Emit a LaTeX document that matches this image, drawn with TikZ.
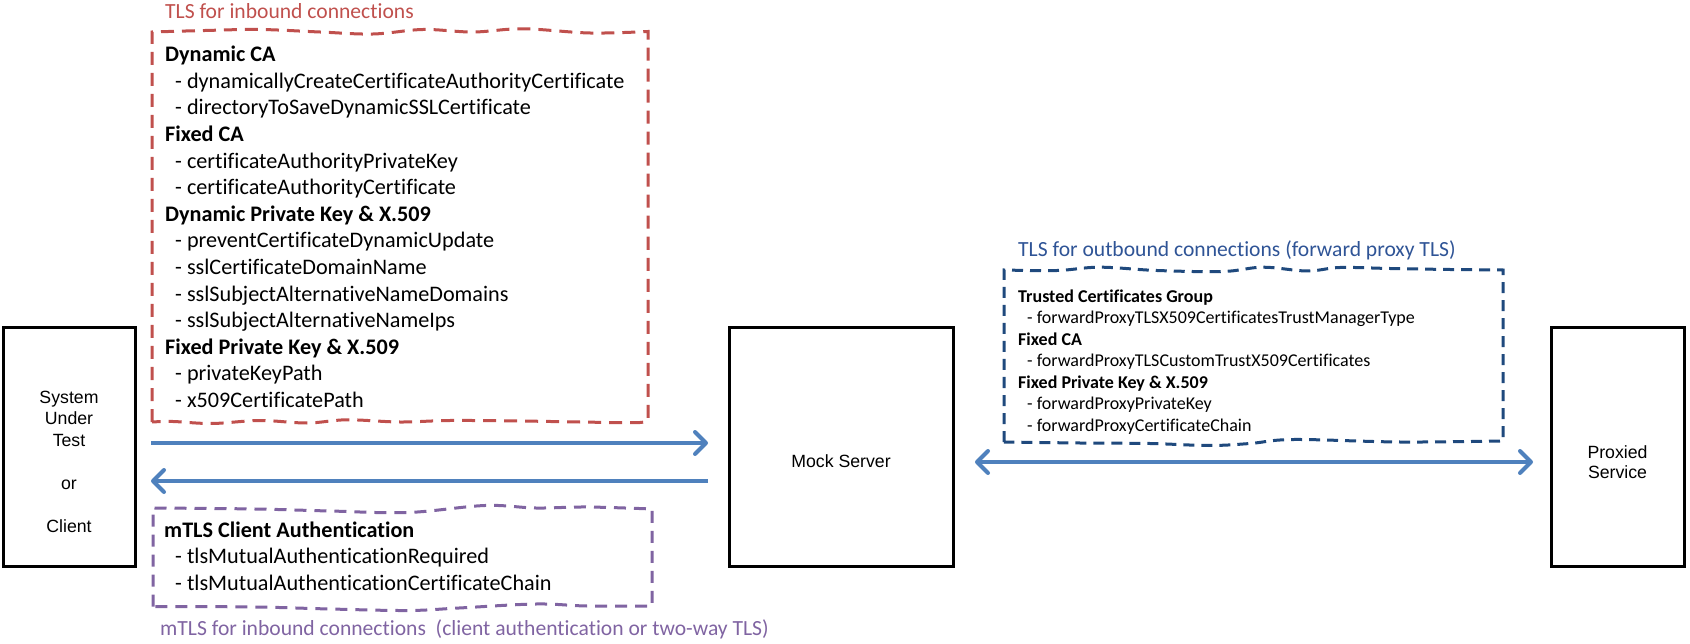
\documentclass[tikz,border=0pt]{standalone}
\usepackage{fontspec}
\setmainfont{Carlito}[Ligatures={NoCommon}]
\newfontfamily\arialfont{Liberation Sans}
\usetikzlibrary{arrows.meta,calc}
\definecolor{tlsred}{HTML}{C0504D}
\definecolor{tlsblue}{HTML}{1F497D}
\definecolor{tlsbluetitle}{HTML}{2F5496}
\definecolor{tlspurple}{HTML}{8064A2}
\definecolor{arrowblue}{HTML}{4F81BD}
\begin{document}
\begin{tikzpicture}[x=1pt,y=-1pt,
  box/.style={draw=black, line width=3pt, rectangle, minimum width=#1, minimum height=238pt, inner sep=0pt, outer sep=0pt},
  boxlabel/.style={align=center, inner sep=0pt, font=\arialfont\fontsize{17.7pt}{21.5pt}\selectfont},
  bigtext/.style={anchor=north west, inner sep=0pt, align=left, font=\fontsize{22.2pt}{26.6pt}\selectfont},
  smalltext/.style={anchor=north west, inner sep=0pt, align=left, font=\fontsize{18pt}{21.5pt}\selectfont},
  title/.style={anchor=base west, inner sep=0pt, font=\fontsize{21.6pt}{25pt}\selectfont},
  reddash/.style={draw=tlsred, line width=3pt, dash pattern=on 13pt off 8pt},
  bluedash/.style={draw=tlsblue, line width=3pt, dash pattern=on 11pt off 7pt},
  purpledash/.style={draw=tlspurple, line width=3pt, dash pattern=on 12pt off 8pt},
  tip/.tip={Straight Barb[length=11pt,width=22pt,round]},
  flow/.style={draw=arrowblue, line width=4pt, -tip},
  flowboth/.style={draw=arrowblue, line width=4pt, tip-tip}
]
\useasboundingbox (0,0) rectangle (1690,644);

% main boxes
\node[box=132pt] (sut) at (69,447) {};
\node[box=224pt] (mock) at (841,447) {};
\node[box=133pt] (prox) at (1617.5,447) {};

\node[boxlabel] (sutlbl) at ($(sut.center)+(0,14.5)$) {System\\Under\\Test\\[21.5pt]or\\[21.5pt]Client};
\node[boxlabel] (mocklbl) at ($(mock.center)+(0,14)$) {Mock Server};
\node[boxlabel, font=\arialfont\fontsize{17.7pt}{20.5pt}\selectfont] (proxlbl) at ($(prox.center)+(0,15)$) {Proxied\\Service};

% connectors
\draw[flow] ($(sut.east)+(16,-4)$) -- ($(mock.west)+(-21,-4)$);
\draw[flow] ($(mock.west)+(-21,34)$) -- ($(sut.east)+(16,34)$);
\draw[flowboth] ($(mock.east)+(22,15)$) -- ($(prox.west)+(-18,15)$);

% red dashed region (inbound TLS)
\draw[reddash] (152,422) -- (152,32)
  -- plot[smooth, tension=0.6] coordinates {(152,32) (205,30.5) (260,29.5) (320,32) (373,34) (423,29.5) (473,32) (523,28.8) (590,33) (648,31.5)}
  -- (648,418)
  -- plot[smooth, tension=0.6] coordinates {(648,418) (640,422.5) (580,422) (520,421) (450,420.5) (400,422) (347,419.8) (307,423) (260,420.5) (212,423.5) (173,421.5) (152,422)};
\node[title, text=tlsred] (redtitle) at (165,19) {TLS for inbound connections};
\node[bigtext] (inbound) at (165,45.5) {\rule{0pt}{16pt}\textbf{Dynamic CA}\\
\hspace*{10pt}- dynamicallyCreateCertificateAuthorityCertificate\\
\hspace*{10pt}- directoryToSaveDynamicSSLCertificate\\
\textbf{Fixed CA}\\
\hspace*{10pt}- certificateAuthorityPrivateKey\\
\hspace*{10pt}- certificateAuthorityCertificate\\
\textbf{Dynamic Private Key \& X.509}\\
\hspace*{10pt}- preventCertificateDynamicUpdate\\
\hspace*{10pt}- sslCertificateDomainName\\
\hspace*{10pt}- sslSubjectAlternativeNameDomains\\
\hspace*{10pt}- sslSubjectAlternativeNameIps\\
\textbf{Fixed Private Key \& X.509}\\
\hspace*{10pt}- privateKeyPath\\
\hspace*{10pt}- x509CertificatePath};

% blue dashed region (outbound TLS)
\draw[bluedash] (1004,442) -- (1004,270)
  -- plot[smooth, tension=0.6] coordinates {(1004,270) (1057,270.5) (1100,267.2) (1157,270.5) (1223,271.5) (1263,267.2) (1307,271) (1340,267.5) (1390,268.5) (1450,269.5) (1503,270)}
  -- (1503,441)
  -- plot[smooth, tension=0.6] coordinates {(1503,441) (1400,442) (1294,439.5) (1250,443.5) (1209,445.5) (1150,443.5) (1080,443) (1004,442)};
\node[title, text=tlsbluetitle] (bluetitle) at (1018,257) {TLS for outbound connections (forward proxy TLS)};
\node[smalltext] (outbound) at (1018,289) {\rule{0pt}{13pt}\textbf{Trusted Certificates Group}\\
\hspace*{9pt}- forwardProxyTLSX509CertificatesTrustManagerType\\
\textbf{Fixed CA}\\
\hspace*{9pt}- forwardProxyTLSCustomTrustX509Certificates\\
\textbf{Fixed Private Key \& X.509}\\
\hspace*{9pt}- forwardProxyPrivateKey\\
\hspace*{9pt}- forwardProxyCertificateChain};

% purple dashed region (mTLS)
\draw[purpledash] (153,606.5) -- (153,508)
  -- plot[smooth, tension=0.6] coordinates {(153,508) (255,509) (330,511) (408,512.5) (485,505.5) (536,508) (587,507) (652,509)}
  -- (652,606)
  -- plot[smooth, tension=0.6] coordinates {(652,606) (587,606) (536,604) (459,608) (408,610.5) (330,609) (255,607) (153,606.5)};
\node[bigtext] (mtls) at (164,521) {\rule{0pt}{16pt}\textbf{mTLS Client Authentication}\\
\hspace*{11pt}- tlsMutualAuthenticationRequired\\
\hspace*{11pt}- tlsMutualAuthenticationCertificateChain};
\node[title, text=tlspurple] (purpletitle) at (160,635) {mTLS for inbound connections\ \ (client authentication or two-way TLS)};
\end{tikzpicture}
\end{document}
